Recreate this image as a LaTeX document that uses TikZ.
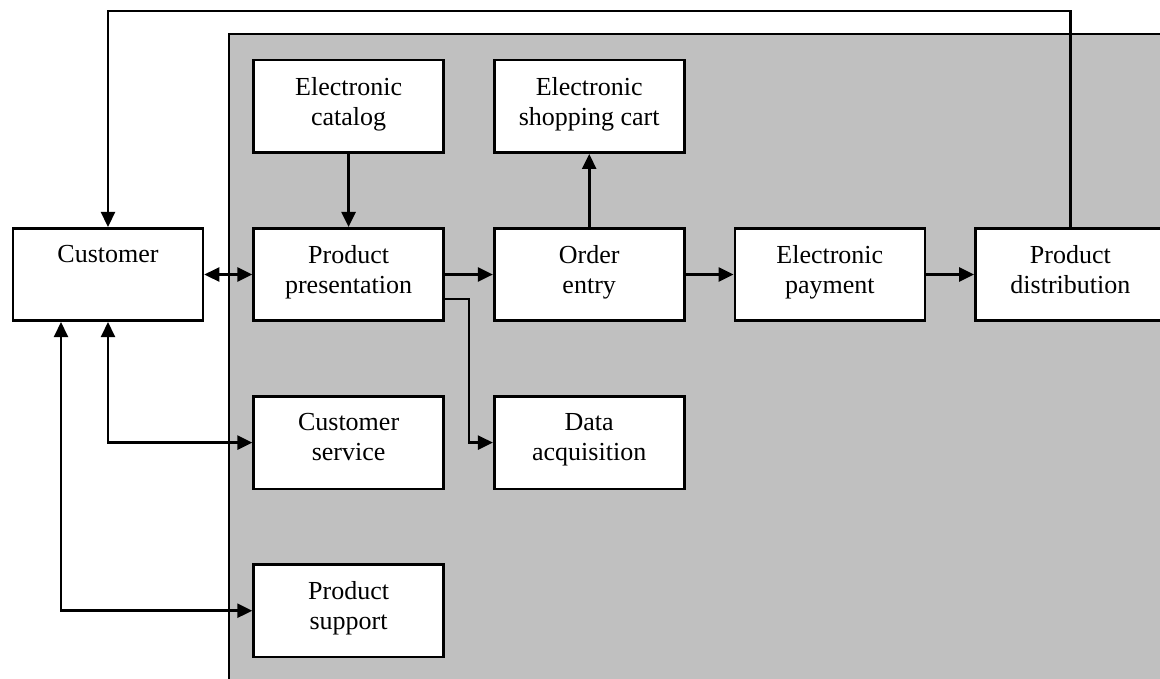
\documentclass[tikz,border=0pt]{standalone}
\usepackage{fontspec}
\setmainfont{Liberation Serif}
\usetikzlibrary{arrows.meta,positioning}
\definecolor{Shade}{HTML}{C0C0C0}
\tikzset{
 box/.style={draw=black,fill=white,line width=2.6pt,minimum width=190pt,
   minimum height=92.5pt,inner sep=0pt},
 lbl/.style={anchor=north,yshift=-18pt,inner sep=0pt,align=center,
   font=\fontsize{26}{30}\selectfont},
 arr/.style={-{Triangle[length=15pt,width=14pt]},line width=2.6pt},
 dbl/.style={arr,{Triangle[length=15pt,width=14pt]}-{Triangle[length=15pt,width=14pt]}}
}
\begin{document}
\begin{tikzpicture}[x=1pt,y=-1pt,node distance=73pt and 48pt]
\clip (0,0) rectangle (1160,678);
\draw[line width=2.6pt,fill=Shade] (229,34) rectangle (1200,720);
\node[box,label={[lbl]north:Customer}] (cust) at (108,274.5) {};
\node[box,right=of cust,label={[lbl]north:Product\\presentation}] (pres) {};
\node[box,right=of pres,label={[lbl]north:Order\\entry}] (order) {};
\node[box,right=of order,label={[lbl]north:Electronic\\payment}] (pay) {};
\node[box,right=of pay,label={[lbl]north:Product\\distribution}] (dist) {};
\node[box,above=of pres,label={[lbl]north:Electronic\\catalog}] (cat) {};
\node[box,above=of order,label={[lbl]north:Electronic\\shopping cart}] (cart) {};
\node[box,below=of pres,label={[lbl]north:Customer\\service}] (serv) {};
\node[box,below=of order,label={[lbl]north:Data\\acquisition}] (data) {};
\node[box,below=of serv,label={[lbl]north:Product\\support}] (supp) {};
\coordinate (ret) at (600,11);
\draw[arr] (dist.north) |- (ret) -| (cust.north);
\draw[dbl] (cust.east)--(pres.west);
\draw[arr] (pres.east)--(order.west);\draw[arr] (order.east)--(pay.west);
\draw[arr] (pay.east)--(dist.west);
\draw[arr] (cat.south)--(pres.north);\draw[arr] (order.north)--(cart.south);
\draw[arr] ([yshift=-24.5pt]pres.east) -- ++(24,0) |- (data.west);
\draw[dbl] (cust.south) |- (serv.west);
\draw[dbl] ([xshift=-47pt]cust.south) |- (supp.west);
\end{tikzpicture}
\end{document}
